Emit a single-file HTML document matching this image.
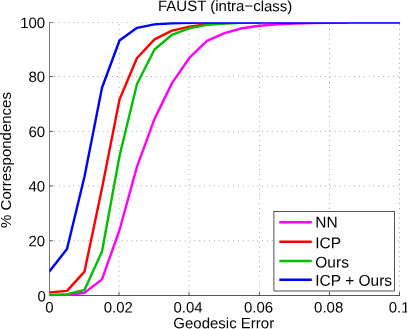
<!DOCTYPE html>
<html><head><meta charset="utf-8"><title>FAUST (intra-class)</title>
<style>
html,body{margin:0;padding:0;background:#fff;}
body{width:407px;height:329px;overflow:hidden;}
#fig{width:407px;height:329px;will-change:transform;background:#fff;}
svg{display:block;}
text{font-family:"Liberation Sans",sans-serif;font-size:15px;fill:#000;}
</style></head><body>
<div id="fig">
<svg width="407" height="329" viewBox="0 0 407 329">
<rect width="407" height="329" fill="#fff"/>
<g stroke="#000" stroke-width="0.85" stroke-dasharray="0.9 3.94" fill="none" opacity="0.46">
<line x1="119.00" y1="24.11" x2="119.00" y2="295.50"/>
<line x1="189.00" y1="24.11" x2="189.00" y2="295.50"/>
<line x1="259.40" y1="24.11" x2="259.40" y2="295.50"/>
<line x1="329.50" y1="24.11" x2="329.50" y2="295.50"/>
<line x1="399.50" y1="24.11" x2="399.50" y2="295.50"/>
<line x1="54.05" y1="240.80" x2="399.90" y2="240.80"/>
<line x1="54.05" y1="186.00" x2="399.90" y2="186.00"/>
<line x1="54.05" y1="131.40" x2="399.90" y2="131.40"/>
<line x1="54.05" y1="76.50" x2="399.90" y2="76.50"/>
<line x1="54.05" y1="22.50" x2="399.90" y2="22.50"/>
</g>
<g stroke="#1c1c1c" stroke-width="0.75" fill="none">
<line x1="49.50" y1="22.12" x2="49.50" y2="295.88"/>
<line x1="49.12" y1="295.50" x2="399.88" y2="295.50"/>
<line x1="49.50" y1="295.50" x2="49.50" y2="292.10"/>
<line x1="119.00" y1="295.50" x2="119.00" y2="292.10"/>
<line x1="189.00" y1="295.50" x2="189.00" y2="292.10"/>
<line x1="259.40" y1="295.50" x2="259.40" y2="292.10"/>
<line x1="329.50" y1="295.50" x2="329.50" y2="292.10"/>
<line x1="399.50" y1="295.50" x2="399.50" y2="292.10"/>
<line x1="49.50" y1="295.50" x2="52.90" y2="295.50"/>
<line x1="49.50" y1="240.80" x2="52.90" y2="240.80"/>
<line x1="49.50" y1="186.00" x2="52.90" y2="186.00"/>
<line x1="49.50" y1="131.40" x2="52.90" y2="131.40"/>
<line x1="49.50" y1="76.50" x2="52.90" y2="76.50"/>
<line x1="49.50" y1="22.50" x2="52.90" y2="22.50"/>
</g>
<g fill="none" stroke-width="2.4" stroke-linejoin="round" stroke-linecap="square">
<polyline stroke="#ff00ff" points="49.50,295.36 67.00,294.95 84.50,292.77 102.00,279.39 119.50,229.98 137.00,166.64 154.50,118.87 172.00,83.11 189.50,57.72 207.00,40.79 224.50,33.15 242.00,28.23 259.50,25.78 277.00,24.41 294.50,23.59 312.00,23.05 329.50,22.77 347.00,22.50"/>
<polyline stroke="#ff0000" points="49.50,292.36 67.00,290.86 84.50,271.61 102.00,188.21 119.50,99.49 137.00,57.99 154.50,39.43 172.00,30.69 189.50,26.60 207.00,24.14 224.50,23.05 242.00,22.50"/>
<polyline stroke="#00bf00" points="49.50,294.95 67.00,294.13 84.50,290.04 102.00,251.55 119.50,156.00 137.00,83.93 154.50,49.53 172.00,34.79 189.50,28.23 207.00,24.82 224.50,23.46 242.00,22.77 259.50,22.50"/>
<polyline stroke="#0000ff" points="49.50,271.20 67.00,249.09 84.50,176.47 102.00,87.75 119.50,40.52 137.00,27.82 154.50,24.41 172.00,23.32 189.50,22.77 207.00,22.50 224.50,22.50 242.00,22.50 259.50,22.50 277.00,22.50 294.50,22.50 312.00,22.50 329.50,22.50 347.00,22.50 364.50,22.50 382.00,22.50 399.50,22.50"/>
</g>
<g fill="#fff">
<rect x="46" y="18" width="358" height="4.2"/>
<rect x="400.1" y="18" width="3.9" height="281"/>
<rect x="46" y="296.4" width="358" height="2.6"/>
<rect x="46" y="18" width="3.2" height="281"/>
</g>
<rect x="273.90" y="211.50" width="120.60" height="79.50" fill="#fff" stroke="#1c1c1c" stroke-width="0.75"/>
<line x1="279.3" y1="222.20" x2="311.8" y2="222.20" stroke="#ff00ff" stroke-width="2.6"/>
<text x="315.30" y="227.50" text-anchor="start" transform="rotate(0.03 315.30 227.50)" style="font-size:15.5px">NN</text>
<line x1="279.3" y1="241.70" x2="311.8" y2="241.70" stroke="#ff0000" stroke-width="2.4"/>
<text x="315.30" y="248.20" text-anchor="start" transform="rotate(0.03 315.30 248.20)" style="font-size:15.5px">ICP</text>
<line x1="279.3" y1="261.00" x2="311.8" y2="261.00" stroke="#00bf00" stroke-width="2.4"/>
<text x="315.30" y="267.40" text-anchor="start" transform="rotate(0.03 315.30 267.40)" style="font-size:15.5px">Ours</text>
<line x1="279.3" y1="279.75" x2="311.8" y2="279.75" stroke="#0000ff" stroke-width="2.45"/>
<text x="315.30" y="285.80" text-anchor="start" transform="rotate(0.03 315.30 285.80)" style="font-size:15.5px">ICP + Ours</text>
<text x="49.50" y="312.50" text-anchor="middle" transform="rotate(0.03 49.50 312.50)">0</text>
<text x="118.30" y="312.50" text-anchor="middle" transform="rotate(0.03 118.30 312.50)">0.02</text>
<text x="188.10" y="312.50" text-anchor="middle" transform="rotate(0.03 188.10 312.50)">0.04</text>
<text x="258.60" y="312.50" text-anchor="middle" transform="rotate(0.03 258.60 312.50)">0.06</text>
<text x="328.70" y="312.50" text-anchor="middle" transform="rotate(0.03 328.70 312.50)">0.08</text>
<text x="399.10" y="312.50" text-anchor="middle" transform="rotate(0.03 399.10 312.50)">0.1</text>
<text x="45.80" y="301.50" text-anchor="end" transform="rotate(0.03 45.80 301.50)">0</text>
<text x="45.20" y="246.35" text-anchor="end" transform="rotate(0.03 45.20 246.35)">20</text>
<text x="45.20" y="191.55" text-anchor="end" transform="rotate(0.03 45.20 191.55)">40</text>
<text x="45.20" y="136.95" text-anchor="end" transform="rotate(0.03 45.20 136.95)">60</text>
<text x="45.20" y="82.05" text-anchor="end" transform="rotate(0.03 45.20 82.05)">80</text>
<text x="45.20" y="28.05" text-anchor="end" transform="rotate(0.03 45.20 28.05)">100</text>
<text x="225.20" y="11.10" text-anchor="middle" transform="rotate(0.03 225.20 11.10)">FAUST (intra−class)</text>
<text x="223.75" y="328.30" text-anchor="middle" transform="rotate(0.03 223.75 328.30)">Geodesic Error</text>
<text transform="translate(11,160) rotate(-90)" text-anchor="middle">% Correspondences</text>
</svg>
</div>
</body></html>
